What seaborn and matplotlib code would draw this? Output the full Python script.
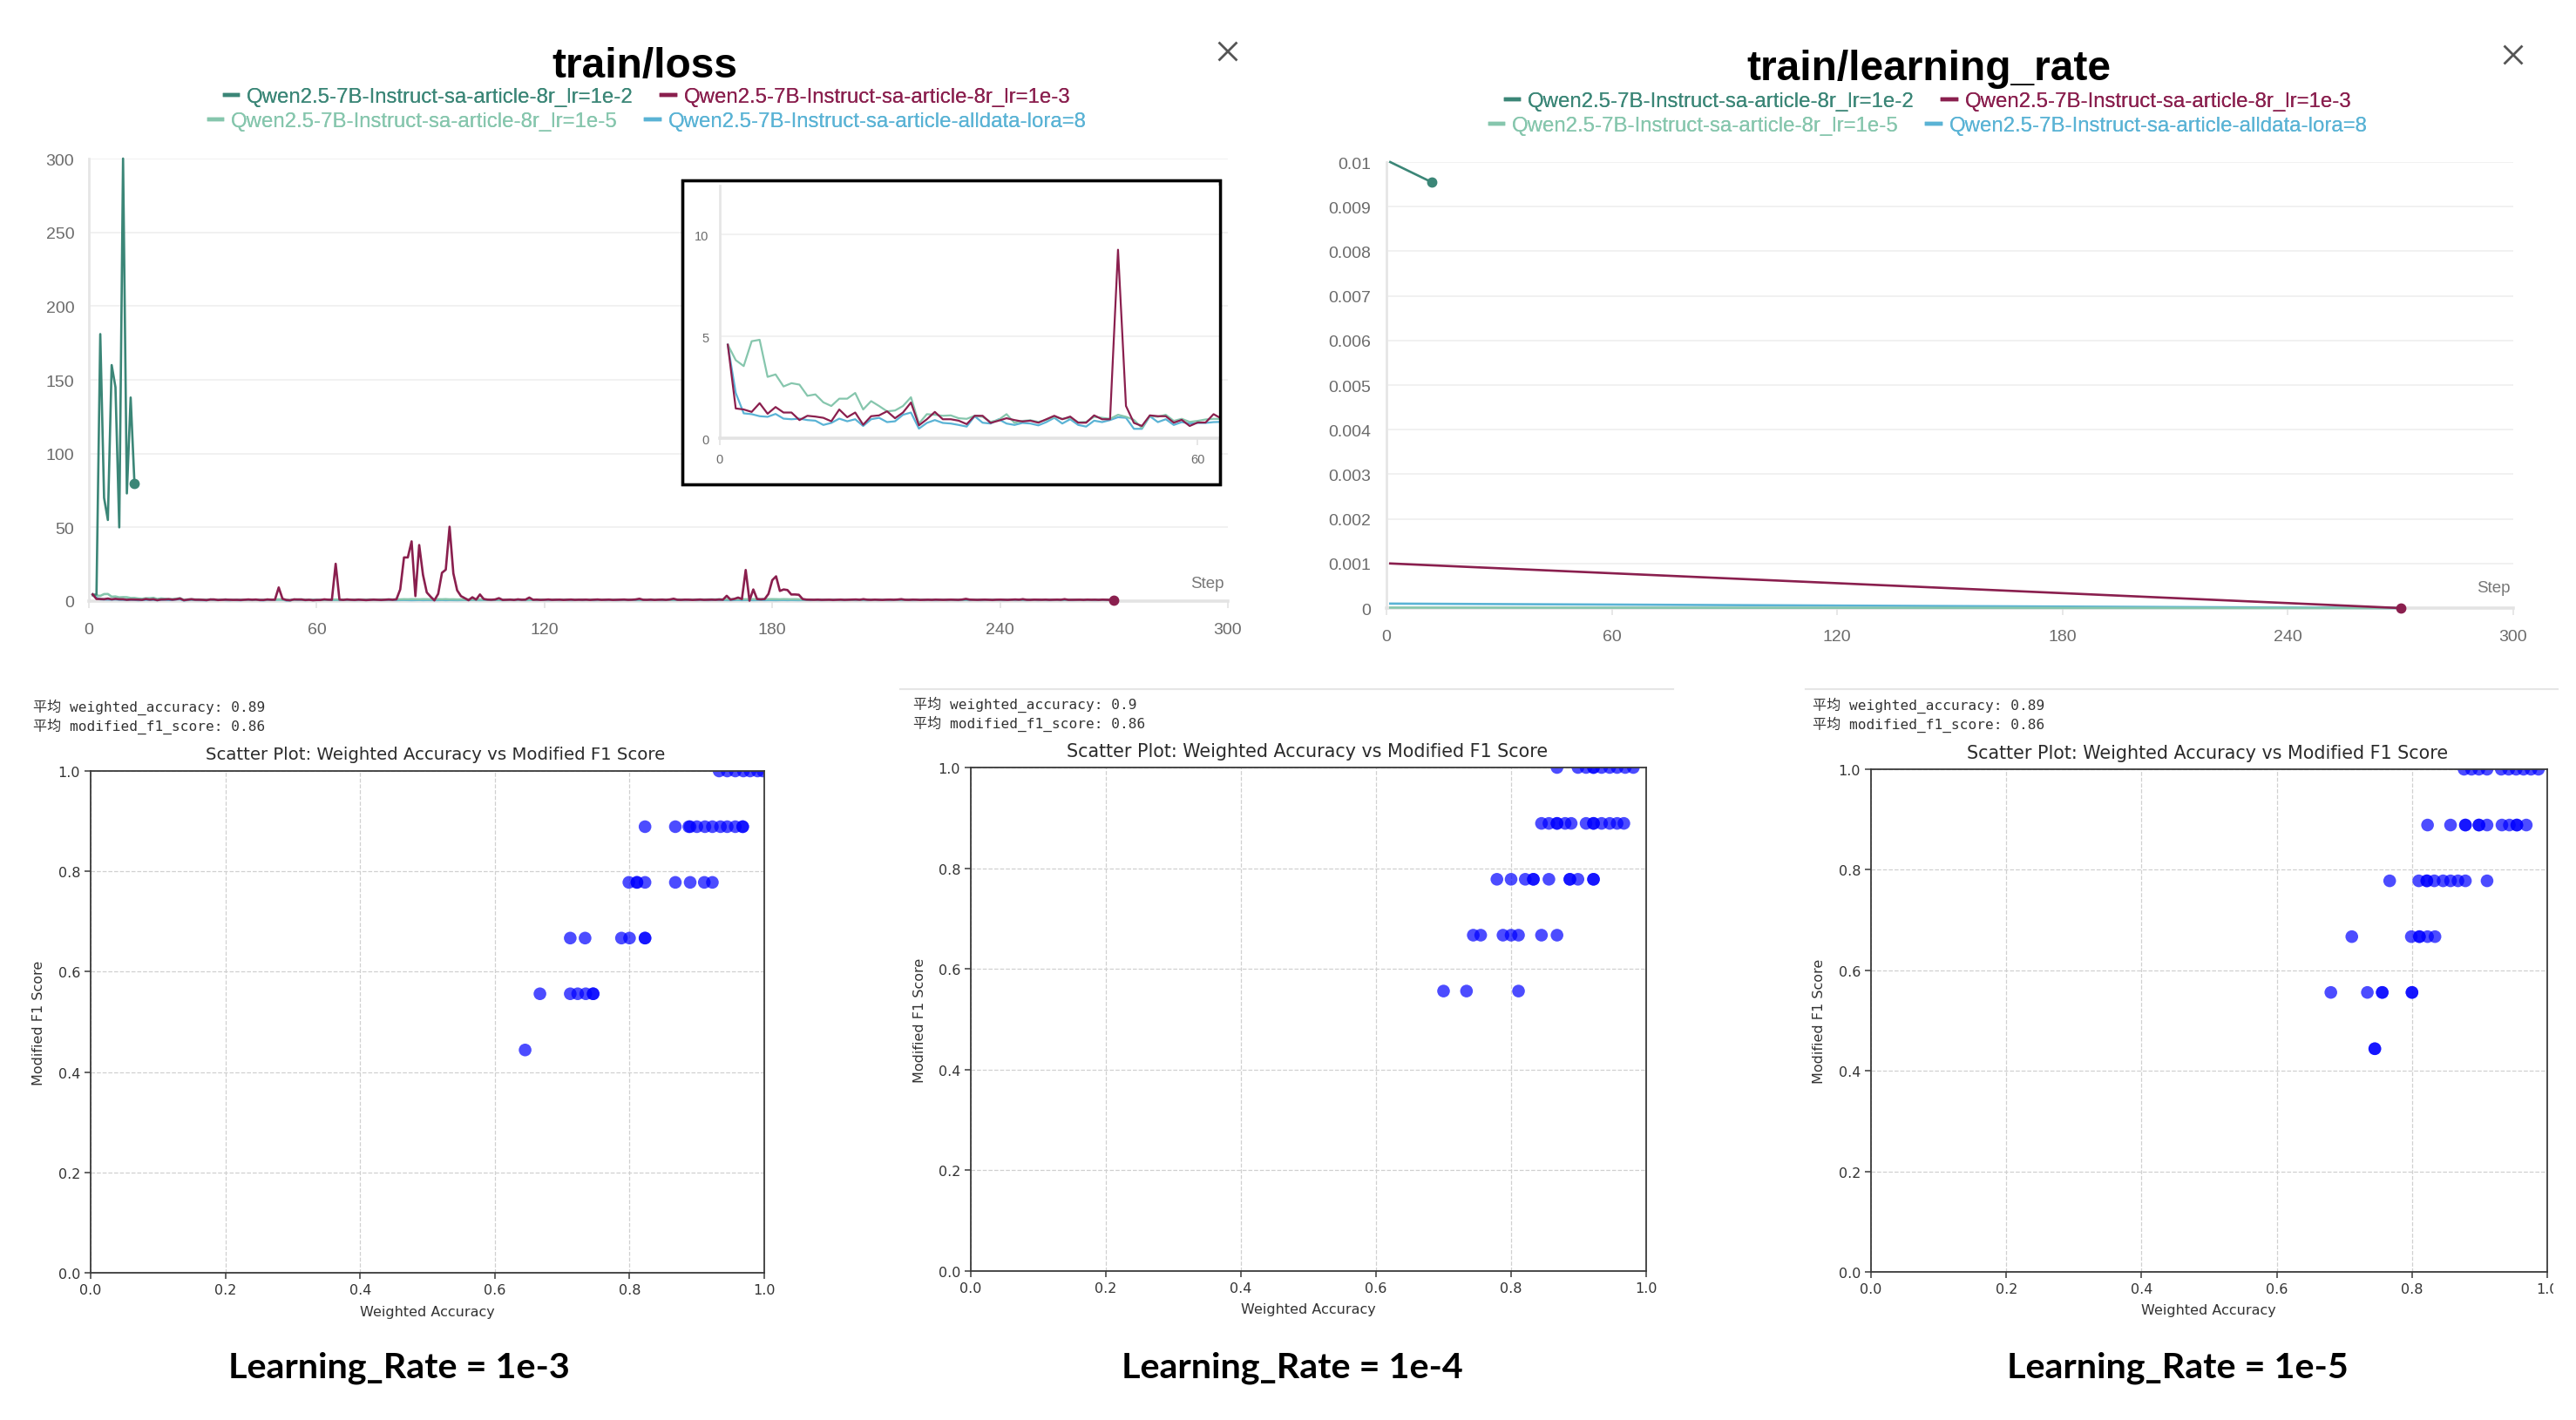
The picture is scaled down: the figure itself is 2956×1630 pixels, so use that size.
import matplotlib
matplotlib.use("Agg")
import matplotlib.pyplot as plt
from matplotlib.lines import Line2D
from matplotlib.patches import Rectangle
import numpy as np
import pandas as pd
import seaborn as sns

plt.rcParams["font.family"] = ["DejaVu Sans"]

W, H = 2956, 1631

# ---------------- data: wandb runs ----------------
RUN_1E2 = "Qwen2.5-7B-Instruct-sa-article-8r_lr=1e-2"
RUN_1E3 = "Qwen2.5-7B-Instruct-sa-article-8r_lr=1e-3"
RUN_1E5 = "Qwen2.5-7B-Instruct-sa-article-8r_lr=1e-5"
RUN_LORA = "Qwen2.5-7B-Instruct-sa-article-alldata-lora=8"

colors = {
    RUN_1E2: "#3b8677",
    RUN_1E3: "#8a1f4e",
    RUN_1E5: "#86c6ad",
    RUN_LORA: "#5ab3d5",
}
draw_order = [RUN_LORA, RUN_1E5, RUN_1E2, RUN_1E3]

loss_1e2 = [4.0, 4.5, 181, 70, 55, 160, 145, 50, 300, 73, 138, 80]

loss_1e3 = [
    4.59, 1.46, 1.41, 1.29, 1.72, 1.20, 1.53, 1.26, 1.26, 0.89,
    1.10, 1.06, 1.00, 0.83, 1.41, 1.03, 1.26, 0.66, 1.08, 1.12,
    1.32, 0.98, 1.26, 1.75, 0.63, 0.93, 1.29, 0.93, 0.93, 0.86,
    0.69, 1.10, 1.10, 0.75, 0.86, 0.98, 0.89, 0.82, 0.86, 0.76,
    0.93, 1.10, 0.93, 1.06, 0.76, 0.76, 1.12, 0.93, 0.93, 9.25,
    1.58, 0.75, 0.60, 1.12, 1.08, 1.08, 0.76, 0.90, 0.60, 0.77,
    0.77, 1.18, 0.96, 0.90, 25.3, 1.00, 0.82, 1.10, 0.90, 0.80,
    1.00, 0.88, 0.70, 0.82, 1.00, 0.90, 0.78, 0.92, 1.10, 0.90,
    1.20, 7.90, 29.6, 29.6, 40.5, 3.40, 38.0, 17.8, 5.90, 3.00,
    0.50, 4.90, 19.2, 21.3, 50.4, 18.8, 7.30, 3.40, 2.00, 0.60,
    2.60, 1.00, 4.50, 1.40, 1.00, 0.90, 1.10, 2.00, 0.80, 0.90,
    1.00, 0.80, 1.20, 0.90, 1.00, 2.40, 0.90, 1.00, 0.80, 0.90,
    1.10, 0.85, 0.95, 1.00, 0.80, 0.90, 1.05, 0.85, 0.95, 0.90,
    1.00, 0.80, 0.95, 1.10, 0.85, 0.90, 1.00, 0.80, 0.90, 0.95,
    1.05, 0.85, 0.90, 1.10, 1.60, 0.90, 0.85, 1.00, 0.80, 0.95,
    1.00, 0.85, 1.10, 1.60, 0.90, 0.85, 1.00, 0.95, 0.80, 0.90,
    1.05, 0.85, 0.95, 1.00, 0.90, 1.10, 0.95, 3.60, 1.00, 1.50,
    2.40, 1.40, 21.1, 0.30, 7.90, 1.40, 1.20, 1.40, 4.90, 14.2,
    16.8, 6.90, 7.90, 7.50, 4.50, 4.50, 4.30, 1.40, 1.00, 0.95,
    0.90, 1.00, 0.85, 0.90, 0.95, 0.80, 0.90, 1.00, 0.85, 0.95,
    1.00, 1.10, 0.90, 1.30, 0.95, 0.85, 1.00, 0.90, 0.80, 0.95,
    1.00, 0.90, 1.05, 1.30, 0.90, 0.85, 1.00, 0.95, 0.80, 0.90,
    0.95, 0.85, 1.00, 0.90, 0.85, 0.95, 1.00, 0.90, 0.85, 1.05,
    1.50, 1.00, 0.90, 0.85, 0.95, 1.00, 0.90, 0.80, 0.95, 1.00,
    0.90, 0.85, 1.00, 1.10, 0.95, 1.30, 0.90, 0.85, 1.00, 0.95,
    0.90, 1.00, 0.85, 0.95, 1.00, 0.90, 1.30, 0.85, 0.90, 1.00,
    0.95, 0.85, 1.00, 0.90, 0.95, 0.85, 1.00, 0.90, 0.85, 0.80,
]

loss_1e5 = [
    4.59, 3.83, 3.54, 4.76, 4.83, 3.01, 3.13, 2.54, 2.70, 2.63,
    2.08, 2.15, 1.76, 1.58, 1.94, 1.94, 2.22, 1.41, 1.82, 1.58,
    1.32, 1.36, 1.58, 2.01, 0.72, 1.18, 1.15, 1.10, 1.12, 0.98,
    0.95, 1.10, 1.05, 0.80, 0.90, 1.18, 0.75, 0.85, 0.88, 0.80,
    0.90, 1.05, 0.95, 1.00, 0.78, 0.80, 1.05, 1.00, 0.95, 1.15,
    1.05, 0.90, 0.50, 1.10, 1.05, 1.15, 0.85, 0.95, 0.80, 0.85,
    0.92, 0.95, 0.95, 1.00, 1.05, 0.95, 1.00, 1.10, 0.95, 1.00,
    1.05, 1.00, 0.95, 1.10, 1.05, 1.00, 1.10, 1.05, 1.15, 1.10,
    1.20, 1.15, 1.25, 1.20, 1.30, 1.25, 1.20, 1.30, 1.25, 1.20,
    1.15, 1.25, 1.20, 1.30, 1.15, 1.20, 1.10, 1.15, 1.05, 1.10,
    1.05, 1.00, 1.10, 1.05, 1.00, 0.95, 1.05, 1.00, 0.95, 1.00,
    1.05, 0.95, 1.00, 1.05, 0.95, 1.00, 1.00, 0.95, 1.05, 1.00,
    0.95, 1.00, 1.05, 0.95, 1.00, 1.05, 1.00, 0.95, 1.00, 1.05,
    1.00, 0.95, 1.05, 1.00, 0.95, 1.00, 1.05, 0.95, 1.00, 1.00,
    1.05, 0.95, 1.00, 1.05, 1.00, 0.95, 1.00, 1.05, 0.95, 1.00,
    1.05, 1.00, 0.95, 1.00, 1.05, 1.00, 0.95, 1.05, 1.00, 1.05,
    1.10, 1.05, 1.10, 1.15, 1.10, 1.20, 1.15, 1.20, 1.25, 1.20,
    1.25, 1.30, 1.25, 1.20, 1.30, 1.25, 1.20, 1.30, 1.25, 1.30,
    1.25, 1.20, 1.30, 1.25, 1.20, 1.25, 1.20, 1.10, 1.00, 0.95,
    0.90, 0.95, 0.85, 0.90, 0.95, 0.85, 0.90, 0.95, 0.85, 0.90,
    0.95, 1.00, 0.90, 1.05, 0.90, 0.85, 0.95, 0.90, 0.85, 0.90,
    0.95, 0.90, 0.95, 1.05, 0.90, 0.85, 0.95, 0.90, 0.85, 0.90,
    0.90, 0.85, 0.95, 0.90, 0.85, 0.90, 0.95, 0.90, 0.85, 0.95,
    1.05, 0.95, 0.90, 0.85, 0.90, 0.95, 0.90, 0.85, 0.90, 0.95,
    0.90, 0.85, 0.95, 1.00, 0.90, 1.05, 0.90, 0.85, 0.95, 0.90,
    0.90, 0.95, 0.85, 0.90, 0.95, 0.90, 1.05, 0.85, 0.90, 0.95,
    0.90, 0.85, 0.95, 0.90, 0.90, 0.85, 0.95, 0.90, 0.85, 0.80,
]

loss_lora = [
    4.59, 2.22, 1.22, 1.18, 1.08, 1.05, 1.19, 0.96, 0.93, 0.96,
    0.89, 0.86, 0.65, 0.75, 0.96, 0.83, 0.93, 0.60, 0.93, 1.00,
    0.79, 0.83, 1.15, 1.26, 0.47, 0.75, 0.89, 0.75, 0.72, 0.65,
    0.57, 1.08, 0.76, 0.72, 0.93, 0.72, 0.65, 0.75, 0.72, 0.63,
    0.79, 1.00, 0.72, 0.93, 0.65, 0.57, 0.86, 0.79, 0.89, 1.03,
    1.00, 0.46, 0.46, 1.08, 0.79, 0.93, 0.65, 0.79, 0.72, 0.75,
    0.75, 0.79, 0.80, 0.75, 0.80, 0.72, 0.78, 0.82, 0.74, 0.70,
    0.78, 0.80, 0.72, 0.76, 0.82, 0.74, 0.70, 0.78, 0.80, 0.75,
    0.72, 0.78, 0.82, 0.74, 0.70, 0.76, 0.80, 0.72, 0.78, 0.75,
    0.70, 0.76, 0.80, 0.72, 0.78, 0.74, 0.70, 0.76, 0.80, 0.72,
    0.78, 0.74, 0.70, 0.76, 0.80, 0.72, 0.78, 0.74, 0.70, 0.76,
    0.80, 0.72, 0.78, 0.74, 0.70, 0.76, 0.80, 0.72, 0.78, 0.74,
    0.70, 0.76, 0.80, 0.72, 0.78, 0.74, 0.70, 0.76, 0.80, 0.72,
    0.78, 0.74, 0.70, 0.76, 0.80, 0.72, 0.78, 0.74, 0.70, 0.76,
    0.80, 0.72, 0.78, 0.74, 0.70, 0.76, 0.80, 0.72, 0.78, 0.74,
    0.70, 0.76, 0.80, 0.72, 0.78, 0.74, 0.70, 0.76, 0.80, 0.72,
    0.78, 0.74, 0.70, 0.76, 0.80, 0.72, 0.78, 0.74, 0.70, 0.76,
    0.80, 0.72, 0.78, 0.74, 0.70, 0.76, 0.80, 0.72, 0.78, 0.74,
    0.70, 0.76, 0.80, 0.72, 0.78, 0.74, 0.70, 0.76, 0.80, 0.72,
    0.78, 0.74, 0.70, 0.76, 0.80, 0.72, 0.78, 0.74, 0.70, 0.76,
    0.80, 0.72, 0.78, 0.74, 0.70, 0.76, 0.80, 0.72, 0.78, 0.74,
    0.70, 0.76, 0.80, 0.72, 0.78, 0.74, 0.70, 0.76, 0.80, 0.72,
    0.78, 0.74, 0.70, 0.76, 0.80, 0.72, 0.78, 0.74, 0.70, 0.76,
    0.80, 0.72, 0.78, 0.74, 0.70, 0.76, 0.80, 0.72, 0.78, 0.74,
    0.70, 0.76, 0.80, 0.72, 0.78, 0.74, 0.70, 0.76, 0.80, 0.72,
    0.78, 0.74, 0.70, 0.76, 0.80, 0.72, 0.78, 0.74, 0.70, 0.76,
    0.80, 0.72, 0.78, 0.74, 0.70, 0.76, 0.80, 0.72, 0.78, 0.74,
]

# learning rate: logged start / end of each run (linear decay)
lr_steps = {RUN_1E2: [1, 12], RUN_1E3: [1, 270], RUN_1E5: [1, 270], RUN_LORA: [1, 270]}
lr_values = {RUN_1E2: [0.01, 0.00955], RUN_1E3: [0.001, 0.0],
             RUN_1E5: [0.00001, 0.0], RUN_LORA: [0.0001, 0.0]}

loss_xticks = [0, 60, 120, 180, 240, 300]
loss_yticks = [0, 50, 100, 150, 200, 250, 300]
lr_yticks = [0, 0.001, 0.002, 0.003, 0.004, 0.005, 0.006, 0.007, 0.008, 0.009, 0.01]
lr_ylabels = ["0", "0.001", "0.002", "0.003", "0.004", "0.005", "0.006",
              "0.007", "0.008", "0.009", "0.01"]

# ---------------- data: scatter panels ----------------
acc_1e3 = [0.933, 0.945, 0.957, 0.969, 0.979, 0.990, 0.998,
           0.823, 0.868, 0.888, 0.900, 0.912, 0.923, 0.935, 0.945, 0.957, 0.968, 0.890, 0.968,
           0.799, 0.811, 0.823, 0.811, 0.868, 0.890, 0.911, 0.923,
           0.712, 0.734, 0.788, 0.800, 0.823, 0.823,
           0.667, 0.712, 0.723, 0.735, 0.746, 0.746,
           0.645]
f1_1e3 = [1.0, 1.0, 1.0, 1.0, 1.0, 1.0, 1.0,
          0.889, 0.889, 0.889, 0.889, 0.889, 0.889, 0.889, 0.889, 0.889, 0.889, 0.889, 0.889,
          0.778, 0.778, 0.778, 0.778, 0.778, 0.778, 0.778, 0.778,
          0.667, 0.667, 0.667, 0.667, 0.667, 0.667,
          0.556, 0.556, 0.556, 0.556, 0.556, 0.556,
          0.444]

acc_1e4 = [0.868, 0.899, 0.911, 0.922, 0.934, 0.946, 0.957, 0.969, 0.981, 0.922,
           0.845, 0.856, 0.868, 0.880, 0.889, 0.911, 0.922, 0.934, 0.946, 0.957, 0.967, 0.868, 0.922,
           0.779, 0.800, 0.821, 0.833, 0.856, 0.887, 0.899, 0.922, 0.833, 0.887, 0.922,
           0.744, 0.755, 0.788, 0.800, 0.811, 0.845, 0.868,
           0.700, 0.734, 0.811]
f1_1e4 = [1.0, 1.0, 1.0, 1.0, 1.0, 1.0, 1.0, 1.0, 1.0, 1.0,
          0.889, 0.889, 0.889, 0.889, 0.889, 0.889, 0.889, 0.889, 0.889, 0.889, 0.889, 0.889, 0.889,
          0.778, 0.778, 0.778, 0.778, 0.778, 0.778, 0.778, 0.778, 0.778, 0.778, 0.778,
          0.667, 0.667, 0.667, 0.667, 0.667, 0.667, 0.667,
          0.556, 0.556, 0.556]

acc_1e5 = [0.877, 0.888, 0.899, 0.911, 0.932, 0.943, 0.954, 0.965, 0.976, 0.987,
           0.823, 0.857, 0.879, 0.899, 0.911, 0.933, 0.944, 0.955, 0.969, 0.879, 0.899, 0.955,
           0.767, 0.810, 0.822, 0.833, 0.846, 0.857, 0.868, 0.879, 0.911, 0.822,
           0.711, 0.799, 0.811, 0.823, 0.834, 0.811,
           0.680, 0.734, 0.756, 0.800, 0.756, 0.800,
           0.745, 0.745]
f1_1e5 = [1.0, 1.0, 1.0, 1.0, 1.0, 1.0, 1.0, 1.0, 1.0, 1.0,
          0.889, 0.889, 0.889, 0.889, 0.889, 0.889, 0.889, 0.889, 0.889, 0.889, 0.889, 0.889,
          0.778, 0.778, 0.778, 0.778, 0.778, 0.778, 0.778, 0.778, 0.778, 0.778,
          0.667, 0.667, 0.667, 0.667, 0.667, 0.667,
          0.556, 0.556, 0.556, 0.556, 0.556, 0.556,
          0.444, 0.444]

panel_stats = [("0.89", "0.86"), ("0.9", "0.86"), ("0.89", "0.86")]
panel_captions = ["Learning_Rate = 1e-3", "Learning_Rate = 1e-4", "Learning_Rate = 1e-5"]
scatter_ticks = [0.0, 0.2, 0.4, 0.6, 0.8, 1.0]

WB_FONT = "Liberation Sans"


def px_axes(fig, l, t, r, b, **kw):
    return fig.add_axes([l / W, 1 - b / H, (r - l) / W, (b - t) / H], **kw)


def ftext(fig, x, y, s, **kw):
    return fig.text(x / W, 1 - y / H, s, **kw)


def long_df(series):
    rows = []
    for run, (steps, vals) in series.items():
        for s, v in zip(steps, vals):
            rows.append((s, v, run))
    return pd.DataFrame(rows, columns=["step", "value", "run"])


def wandb_style(ax, xticks, yticks, ylabels=None, size=14, ypad=12, xpad=11):
    ax.set_xticks(xticks)
    ax.set_yticks(yticks)
    if ylabels is not None:
        ax.set_yticklabels(ylabels)
    for side in ["top", "right"]:
        ax.spines[side].set_visible(False)
    ax.spines["left"].set_color("#e6e6e6")
    ax.spines["left"].set_linewidth(2.0)
    ax.spines["bottom"].set_color("#e3e3e3")
    ax.spines["bottom"].set_linewidth(2.6)
    ax.yaxis.grid(True, color="#efefef", lw=1.2)
    ax.xaxis.grid(False)
    ax.set_axisbelow(True)
    ax.tick_params(axis="y", length=0, pad=ypad, labelsize=size, labelcolor="#6b6b6b")
    ax.tick_params(axis="x", length=6, width=1.2, color="#e3e3e3", pad=xpad,
                   labelsize=size, labelcolor="#6b6b6b")
    for lbl in ax.get_xticklabels() + ax.get_yticklabels():
        lbl.set_fontfamily(WB_FONT)
    ax.set_xlabel("")
    ax.set_ylabel("")


def draw_lines(ax, df, lw=1.9):
    sns.lineplot(data=df, x="step", y="value", hue="run", hue_order=draw_order,
                 palette=colors, estimator=None, legend=False, lw=lw, ax=ax,
                 zorder=3, clip_on=False)


def end_markers(ax, df, runs):
    for run in runs:
        sub = df[df["run"] == run]
        ax.plot(sub["step"].iloc[-1], sub["value"].iloc[-1], "o", ms=7.5,
                color=colors[run], zorder=5, clip_on=False)


def wb_legend(fig, cx, y1, y2):
    for y, runs in [(y1, [RUN_1E2, RUN_1E3]), (y2, [RUN_1E5, RUN_LORA])]:
        handles = [Line2D([], [], color=colors[r], lw=3.2) for r in runs]
        leg = fig.legend(handles, runs, loc="center", bbox_to_anchor=(cx / W, 1 - y / H),
                         ncol=2, frameon=False, prop={"family": WB_FONT, "size": 17.3},
                         handlelength=0.65, handletextpad=0.4, columnspacing=1.35,
                         labelcolor="linecolor", borderaxespad=0, borderpad=0)
        fig.add_artist(leg)


def close_icon(fig, cx, cy, half=9.5):
    for dx in (-half, half):
        fig.add_artist(Line2D([(cx - half) / W, (cx + half) / W],
                              [1 - (cy - dx) / H, 1 - (cy + dx) / H],
                              transform=fig.transFigure, color="#555555", lw=2.0))


fig = plt.figure(figsize=(W / 100, H / 100), dpi=100)

# ---------------- train/loss ----------------
loss_df = long_df({
    RUN_1E2: (list(range(1, len(loss_1e2) + 1)), loss_1e2),
    RUN_1E3: (list(range(1, len(loss_1e3) + 1)), loss_1e3),
    RUN_1E5: (list(range(1, len(loss_1e5) + 1)), loss_1e5),
    RUN_LORA: (list(range(1, len(loss_lora) + 1)), loss_lora),
})

ax_loss = px_axes(fig, 102, 183, 1409, 691)
draw_lines(ax_loss, loss_df)
end_markers(ax_loss, loss_df, [RUN_1E2, RUN_1E3])
ax_loss.set_xlim(0, 300)
ax_loss.set_ylim(0, 300)
wandb_style(ax_loss, loss_xticks, loss_yticks)
ax_loss.text(0.997, 0.04, "Step", transform=ax_loss.transAxes, ha="right", va="center",
             fontsize=13.5, color="#777777", family=WB_FONT)
ftext(fig, 740, 89, "train/loss", ha="center", va="baseline", fontsize=34.5,
      fontweight="bold", family=WB_FONT)
wb_legend(fig, 743, 112, 140)
close_icon(fig, 1409, 60)

# inset zoom box
BOX = (783, 208, 1400, 557)
box = Rectangle((BOX[0] / W, 1 - BOX[3] / H), (BOX[2] - BOX[0]) / W, (BOX[3] - BOX[1]) / H,
                transform=fig.transFigure, facecolor="white", edgecolor="black",
                lw=2.4, zorder=1.5)
fig.patches.append(box)
ax_in = px_axes(fig, 826, 214, 1399, 504, zorder=2)
inset_df = loss_df[(loss_df["run"] != RUN_1E2) & (loss_df["step"] <= 64)]
draw_lines(ax_in, inset_df, lw=1.6)
ax_in.set_xlim(0, 62.7)
ax_in.set_ylim(0, 12.4)
wandb_style(ax_in, [0, 60], [0, 5, 10], size=10.5, ypad=9, xpad=6)
for ln in ax_in.lines:
    ln.set_clip_on(True)
box_edge = Rectangle((BOX[0] / W, 1 - BOX[3] / H), (BOX[2] - BOX[0]) / W,
                     (BOX[3] - BOX[1]) / H, transform=fig.transFigure,
                     facecolor="none", edgecolor="black", lw=2.4, zorder=3)
fig.patches.append(box_edge)

# ---------------- train/learning_rate ----------------
lr_df = long_df({r: (lr_steps[r], lr_values[r]) for r in draw_order})
ax_lr = px_axes(fig, 1591, 187, 2884, 699)
draw_lines(ax_lr, lr_df)
end_markers(ax_lr, lr_df, [RUN_1E2, RUN_1E3])
ax_lr.set_xlim(0, 300)
ax_lr.set_ylim(0, 0.01)
wandb_style(ax_lr, loss_xticks, lr_yticks, lr_ylabels, ypad=13)
ax_lr.text(0.997, 0.045, "Step", transform=ax_lr.transAxes, ha="right", va="center",
           fontsize=13.5, color="#777777", family=WB_FONT)
ftext(fig, 2213, 92, "train/learning_rate", ha="center", va="baseline", fontsize=34.5,
      fontweight="bold", family=WB_FONT)
wb_legend(fig, 2213, 117, 145)
close_icon(fig, 2884, 64)

# ---------------- scatter panels ----------------
panels = [
    dict(acc=acc_1e3, f1=f1_1e3, box=(104, 886, 877, 1462), stat=(38, 812),
         title=(500, 867), tsize=14.2, xlab=(490, 1507), ylab=45, cap=(458, 1570)),
    dict(acc=acc_1e4, f1=f1_1e4, box=(1114, 882, 1889, 1460), stat=(1048, 809),
         title=(1500, 863), tsize=14.9, xlab=(1501, 1504), ylab=1055, cap=(1483, 1570)),
    dict(acc=acc_1e5, f1=f1_1e5, box=(2147, 884, 2923, 1461), stat=(2080, 810),
         title=(2533, 865), tsize=14.9, xlab=(2534, 1505), ylab=2088, cap=(2499, 1570)),
]

for i, p in enumerate(panels):
    l, t, r, b = p["box"]
    ax = px_axes(fig, l, t, r, b)
    sc_df = pd.DataFrame({"acc": p["acc"], "f1": p["f1"]})
    sns.scatterplot(data=sc_df, x="acc", y="f1", color="blue", alpha=0.7, s=110,
                    edgecolor="none", linewidth=0, ax=ax)
    ax.set_xlim(0, 1)
    ax.set_ylim(0, 1)
    ax.set_xticks(scatter_ticks)
    ax.set_yticks(scatter_ticks)
    ax.grid(True, ls="--", color="#d0d0d0", lw=0.9)
    ax.set_axisbelow(True)
    for sp in ax.spines.values():
        sp.set_color("#3a3a3a")
        sp.set_linewidth(1.3)
    ax.tick_params(labelsize=11.5, labelcolor="#333333", color="#3a3a3a", length=5, width=1.1)
    ax.set_xlabel("")
    ax.set_ylabel("")
    ftext(fig, *p["title"], "Scatter Plot: Weighted Accuracy vs Modified F1 Score",
          ha="center", va="center", fontsize=p["tsize"], color="#2b2b2b")
    ftext(fig, *p["xlab"], "Weighted Accuracy", ha="center", va="center",
          fontsize=11.5, color="#333333")
    ftext(fig, p["ylab"], (t + b) / 2, "Modified F1 Score", ha="center", va="center",
          rotation=90, fontsize=11.5, color="#333333")
    sx, sy = p["stat"]
    wa, mf = panel_stats[i]
    ftext(fig, sx, sy, "平均 weighted_accuracy: " + wa, ha="left", va="center",
          fontsize=11.6, color="#333333", family=["DejaVu Sans Mono", "Noto Sans CJK SC"])
    ftext(fig, sx, sy + 21.5, "平均 modified_f1_score: " + mf, ha="left", va="center",
          fontsize=11.6, color="#333333", family=["DejaVu Sans Mono", "Noto Sans CJK SC"])
    ftext(fig, *p["cap"], panel_captions[i], ha="center", va="center",
          fontsize=29.7, fontweight="bold", family="Lato")

# thin separators above panels 2 and 3
for x0, x1 in [(1033, 1920), (2072, 2935)]:
    fig.add_artist(Line2D([x0 / W, x1 / W], [1 - 792 / H, 1 - 792 / H],
                          transform=fig.transFigure, color="#e6e6e6", lw=1.5))

# right side of the third panel is cropped in the screenshot
fig.patches.append(Rectangle((2930 / W, 0), (W - 2930) / W, 1 - 800 / H,
                             transform=fig.transFigure, facecolor="white",
                             edgecolor="none", zorder=10))

fig.savefig("out.png", dpi=100)
